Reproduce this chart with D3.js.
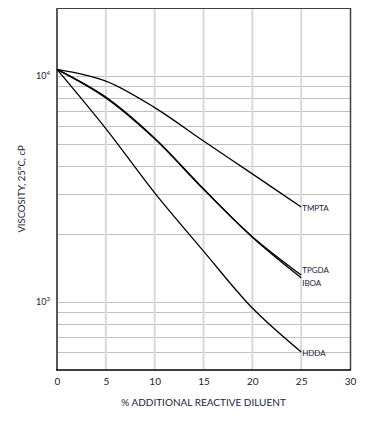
<!DOCTYPE html>
<html><head><meta charset="utf-8">
<script src="https://cdn.jsdelivr.net/npm/d3@7"></script>
<style>body{margin:0;background:#fff}svg{display:block}</style>
</head><body>
<svg id="c" width="383" height="422"></svg>
<script>
const diluent = [0, 5, 10, 15, 20, 25];
const tmpta = [10700, 9500, 7250, 5160, 3690, 2630];
const tpgda = [10700, 8000, 5270, 3150, 1945, 1316];
const iboa  = [10700, 8070, 5310, 3170, 1935, 1280];
const hdda  = [10700, 5850, 3040, 1680, 940, 601];
const seriesNames = ["TMPTA", "TPGDA", "IBOA", "HDDA"];
const xTicks = [0, 5, 10, 15, 20, 25, 30];
const yMajor = [1000, 10000];
const yGrid = [600, 700, 800, 900, 1000, 2000, 3000, 4000, 5000, 6000, 7000, 8000, 9000, 10000];

const svg = d3.select("#c");
const m = {l:57, r:350, t:8, b:370};
const x = d3.scaleLinear().domain([0, 30]).range([m.l, m.r]);
const y = d3.scaleLog().domain([500, 20000]).range([m.b, m.t]);
const font = "Lato, 'Open Sans', sans-serif";
const txt = "#1a2238";

// horizontal grid
svg.append("g").selectAll("line").data(yGrid).join("line")
  .attr("x1", m.l).attr("x2", m.r)
  .attr("y1", d => Math.round(y(d)) + 0.5).attr("y2", d => Math.round(y(d)) + 0.5)
  .attr("stroke", "#c0c0c0").attr("stroke-width", 1);
// vertical grid
svg.append("g").selectAll("line").data(xTicks.slice(1, -1)).join("line")
  .attr("x1", d => x(d)).attr("x2", d => x(d))
  .attr("y1", m.t).attr("y2", m.b)
  .attr("stroke", "#d9d9d9").attr("stroke-width", 2);

// frame
svg.append("line").attr("x1", m.l).attr("x2", m.r).attr("y1", m.t + 0.5).attr("y2", m.t + 0.5).attr("stroke", "#404040").attr("stroke-width", 1);
svg.append("line").attr("x1", m.r + 0.5).attr("x2", m.r + 0.5).attr("y1", m.t).attr("y2", m.b).attr("stroke", "#404040").attr("stroke-width", 1.5);
svg.append("line").attr("x1", m.l).attr("x2", m.l).attr("y1", m.t).attr("y2", m.b).attr("stroke", "#595959").attr("stroke-width", 2);
svg.append("line").attr("x1", m.l - 1).attr("x2", m.r + 1).attr("y1", m.b).attr("y2", m.b).attr("stroke", "#000").attr("stroke-width", 1.5);

// x axis labels
const xAxis = d3.axisBottom(x).tickValues(xTicks).tickSize(0).tickPadding(8);
const gx = svg.append("g").attr("transform", `translate(0,${m.b})`).call(xAxis);
gx.select(".domain").remove();
gx.selectAll("text").attr("font-family", font).attr("font-size", 10).attr("fill", txt);

// y labels 10^3, 10^4
const yl = svg.append("g").selectAll("text").data(yMajor).join("text")
  .attr("x", 50).attr("y", d => y(d) + 3)
  .attr("text-anchor", "end").attr("font-family", font).attr("font-size", 9).attr("fill", txt);
yl.append("tspan").text("10");
yl.append("tspan").attr("font-size", 6).attr("dy", -4).text(d => Math.round(Math.log10(d)));

// titles
svg.append("text").attr("x", (m.l + m.r) / 2).attr("y", 406).attr("text-anchor", "middle")
  .attr("font-family", font).attr("font-size", 10).attr("fill", txt).text("% ADDITIONAL REACTIVE DILUENT");
svg.append("text").attr("transform", "translate(25,189) rotate(-90)").attr("text-anchor", "middle")
  .attr("font-family", font).attr("font-size", 9.5).attr("fill", txt).text("VISCOSITY, 25ºC, cP");

// curves
const line = d3.line().x((d, i) => x(diluent[i])).y(d => y(d)).curve(d3.curveCatmullRom.alpha(0.5));
const all = [tmpta, tpgda, iboa, hdda];
svg.append("g").selectAll("path").data(all).join("path")
  .attr("d", line).attr("fill", "none").attr("stroke", "#000").attr("stroke-width", 1.3);

// end labels
const labelDy = [4, -2, 8, 4];
svg.append("g").selectAll("text").data(seriesNames).join("text")
  .attr("x", x(25) + 1).attr("y", (d, i) => y(all[i][all[i].length - 1]) + labelDy[i])
  .attr("font-family", font).attr("font-size", 8).attr("fill", txt).text(d => d);
</script>
</body></html>
